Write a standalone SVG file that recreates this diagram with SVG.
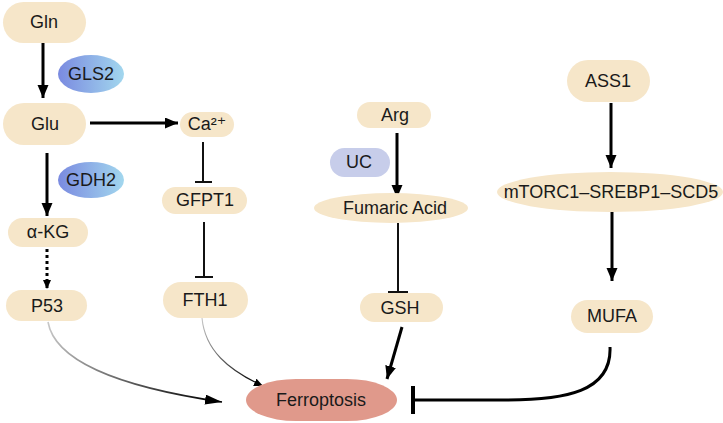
<svg xmlns="http://www.w3.org/2000/svg" width="723" height="423" viewBox="0 0 723 423">
<style>
.node{fill:#f6e6c9}
.enz{fill:url(#blueGrad)}
.uc{fill:#c7cdea}
.fer{fill:#e0998b}
text{font-family:"Liberation Sans","DejaVu Sans",Arial,sans-serif;font-size:18px;fill:#1a1a1a;text-anchor:middle}
.thick{stroke:#000;stroke-width:3;fill:none}
.inh{stroke:#111;stroke-width:2;fill:none}
</style>
<defs>
<linearGradient id="blueGrad" x1="0" y1="0" x2="1" y2="0">
<stop offset="0" stop-color="#7a8ae0"/>
<stop offset="1" stop-color="#a2d7ee"/>
</linearGradient>
<linearGradient id="p53Grad" gradientUnits="userSpaceOnUse" x1="48" y1="322" x2="215" y2="400">
<stop offset="0" stop-color="#c8c8c8"/>
<stop offset="1" stop-color="#000"/>
</linearGradient>
<linearGradient id="fthGrad" gradientUnits="userSpaceOnUse" x1="202" y1="318" x2="258" y2="383">
<stop offset="0" stop-color="#c8c8c8"/>
<stop offset="1" stop-color="#000"/>
</linearGradient>
<marker id="arr" markerUnits="userSpaceOnUse" markerWidth="14" markerHeight="12" refX="13" refY="5.5" orient="auto">
<path d="M0,0 L13,5.5 L0,11 z" fill="#000"/>
</marker>
<marker id="arrS" markerUnits="userSpaceOnUse" markerWidth="10" markerHeight="9" refX="9" refY="4" orient="auto">
<path d="M0,0 L9,4 L0,8 z" fill="#000"/>
</marker>
<marker id="arrL" markerUnits="userSpaceOnUse" markerWidth="18" markerHeight="12" refX="17" refY="5" orient="auto">
<path d="M0,0 L17,5 L0,10 z" fill="#000"/>
</marker>
</defs>

<g id="connectors">
<line class="thick" x1="43" y1="43" x2="43" y2="98" marker-end="url(#arr)"/>
<line class="thick" x1="90" y1="123" x2="178" y2="123" marker-end="url(#arr)"/>
<line class="thick" x1="47" y1="153" x2="47" y2="216" marker-end="url(#arr)"/>
<line x1="47" y1="249" x2="47" y2="289" stroke="#000" stroke-width="3" stroke-dasharray="3 3" marker-end="url(#arrS)"/>
<line class="inh" x1="203" y1="142" x2="203" y2="182" stroke-width="1.8"/>
<line class="inh" x1="195" y1="182" x2="212" y2="182" stroke-width="2"/>
<line class="inh" x1="204" y1="222" x2="204" y2="277" stroke-width="2.2"/>
<line class="inh" x1="195" y1="277" x2="213" y2="277" stroke-width="2.2"/>
<line class="thick" x1="397" y1="133" x2="397" y2="198" marker-end="url(#arr)"/>
<line class="inh" x1="398" y1="223" x2="398" y2="292" stroke-width="2.6"/>
<line class="inh" x1="388" y1="292" x2="408" y2="292" stroke-width="2.6"/>
<line class="thick" x1="611" y1="103" x2="611" y2="168" marker-end="url(#arr)"/>
<line class="thick" x1="612" y1="212" x2="612" y2="281" marker-end="url(#arr)"/>
<line class="thick" x1="402" y1="327" x2="387" y2="379" marker-end="url(#arr)"/>
<path class="thick" d="M610,347 C612,392 565,400 505,400 L414,400"/>
<line x1="413" y1="386" x2="413" y2="414" stroke="#000" stroke-width="4"/>
<path d="M48,322 C55,362 120,387 222,402" fill="none" stroke="url(#p53Grad)" stroke-width="1.6" marker-end="url(#arrL)"/>
<path d="M202,318 C205,350 228,370 263,386" fill="none" stroke="url(#fthGrad)" stroke-width="1.1" marker-end="url(#arrS)"/>
</g>

<g id="Gln"><rect class="node" x="3" y="2" width="83" height="41" rx="20.5"/><text x="44" y="28">Gln</text></g>
<g id="GLS2"><ellipse class="enz" cx="91" cy="74" rx="33" ry="19"/><text x="91" y="80">GLS2</text></g>
<g id="Glu"><rect class="node" x="3" y="103" width="83" height="42" rx="21"/><text x="45" y="130">Glu</text></g>
<g id="GDH2"><ellipse class="enz" cx="91" cy="180" rx="33" ry="18"/><text x="91" y="186">GDH2</text></g>
<g id="aKG"><rect class="node" x="8" y="218" width="80" height="29" rx="14.5"/><text x="48" y="238">α-KG</text></g>
<g id="P53"><rect class="node" x="6" y="290" width="81" height="31" rx="15.5"/><text x="47" y="312">P53</text></g>
<g id="Ca"><rect class="node" x="180" y="112" width="54" height="25" rx="12.5"/><text x="207" y="130">Ca²⁺</text></g>
<g id="GFPT1"><rect class="node" x="162" y="187" width="85" height="27" rx="13.5"/><text x="205" y="206">GFPT1</text></g>
<g id="FTH1"><rect class="node" x="163" y="282" width="85" height="36" rx="18"/><text x="205" y="306">FTH1</text></g>
<g id="Arg"><rect class="node" x="357" y="102" width="74" height="26" rx="13"/><text x="395" y="121">Arg</text></g>
<g id="UC"><rect class="uc" x="330" y="148" width="60" height="29" rx="14.5"/><text x="359" y="168">UC</text></g>
<g id="FumaricAcid"><ellipse class="node" cx="391" cy="208" rx="77" ry="15"/><text x="395" y="214">Fumaric Acid</text></g>
<g id="GSH"><rect class="node" x="360" y="293" width="83" height="29" rx="14.5"/><text x="400" y="314">GSH</text></g>
<g id="ASS1"><rect class="node" x="567" y="60" width="83" height="42" rx="21"/><text x="608" y="87">ASS1</text></g>
<g id="mTORC1"><ellipse class="node" cx="610" cy="192" rx="113" ry="20"/><text x="611" y="198">mTORC1–SREBP1–SCD5</text></g>
<g id="MUFA"><rect class="node" x="571" y="300" width="82" height="33" rx="16.5"/><text x="612" y="322">MUFA</text></g>
<g id="Ferroptosis"><rect class="fer" x="246" y="379" width="151" height="42" rx="50" ry="21"/><text x="321" y="406">Ferroptosis</text></g>
</svg>
